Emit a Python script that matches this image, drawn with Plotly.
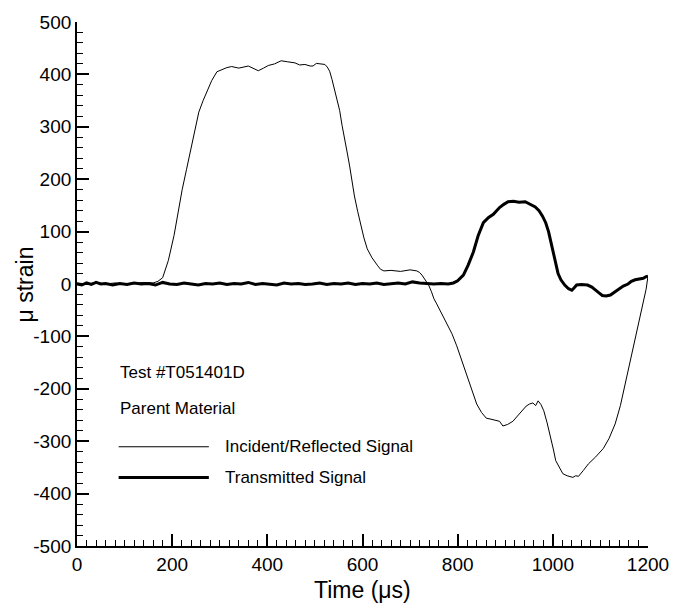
import plotly.graph_objects as go

# ---- data ----
incident_t = [0, 20, 40, 60, 80, 100, 120, 140, 160, 170, 180, 192, 204, 212, 221, 230, 239, 247, 256, 265,
              273, 283, 294, 305, 315, 325, 340, 360, 372, 381, 392, 402, 415, 429, 443, 458, 468, 479, 490, 496,
              503, 512, 521, 526, 531, 536, 541, 547, 552, 557, 562, 568, 573, 578, 583, 590, 596, 603, 610, 620,
              631, 638, 645, 660, 680, 700, 714, 720, 725, 732, 739, 745, 750, 756, 766, 777, 788, 798, 808, 819,
              830, 840, 850, 860, 870, 881, 888, 895, 905, 916, 930, 944, 951, 958, 964, 969, 975, 981, 988, 996,
              1001, 1006, 1013, 1021, 1030, 1042, 1048, 1054, 1064, 1075, 1090, 1106, 1118, 1131, 1142, 1152, 1163,
              1173, 1182, 1190, 1196, 1200]
incident_v = [2, 0, 3, 0, 2, 0, 1, 3, 2, 5, 12, 45, 93, 135, 180, 218, 254, 292, 328, 350,
              367, 388, 405, 410, 413, 415, 412, 416, 410, 407, 412, 417, 420, 426, 424, 422, 418, 419, 416, 416,
              421, 420, 419, 414, 406, 390, 370, 350, 331, 303, 275, 250, 225, 196, 168, 138, 112, 88, 67, 50,
              36, 28, 25, 26, 24, 27, 25, 22, 17, 8, -2, -15, -28, -38, -55, -75, -95, -118, -145, -172,
              -202, -229, -245, -256, -258, -261, -262, -271, -268, -262, -248, -233, -229, -227, -232, -223, -230, -242, -265, -294,
              -315, -337, -350, -362, -366, -369, -366, -367, -356, -343, -330, -314, -295, -267, -232, -191, -148,
              -104, -70, -36, -10, 15]

transmitted_t = [0, 10, 20, 30, 40, 50, 60, 75, 90, 105, 120, 135, 150, 165, 180, 195, 210, 225, 240, 255,
                 270, 285, 300, 315, 330, 345, 360, 375, 390, 405, 420, 435, 450, 465, 480, 495, 510, 525, 540, 555,
                 570, 585, 600, 615, 630, 645, 660, 675, 690, 705, 720, 735, 750, 765, 780, 791, 800, 812, 822, 833,
                 843, 854, 865, 875, 888, 897, 906, 917, 929, 942, 954, 963, 971, 978, 985, 991, 996, 1001, 1006, 1011,
                 1017, 1025, 1033, 1040, 1044, 1050, 1060, 1073, 1082, 1090, 1097, 1104, 1112, 1121, 1130, 1138, 1148,
                 1158, 1165, 1173, 1182, 1190, 1196, 1200]
transmitted_v = [0, -2, 2, -1, 3, 0, 1, -2, 1, -1, 2, 0, 1, -2, 3, 0, -1, 2, 0, -2,
                 1, 0, 2, -1, 1, 0, 3, -1, 1, 0, -2, 2, 0, 1, -1, 0, 2, -1, 1, 0,
                 2, -1, 1, 0, 2, -1, 1, 2, 0, 4, 2, 1, 0, 1, 0, 2, 6, 17, 36, 61,
                 92, 117, 127, 133, 146, 152, 157, 158, 156, 157, 152, 147, 140, 130, 117, 100, 80, 58, 36, 20,
                 8, -2, -9, -12, -8, -2, -1, -2, -6, -11, -17, -22, -23, -21, -15, -9, -4,
                 0, 5, 8, 10, 11, 14, 15]

x_ticks = [0, 200, 400, 600, 800, 1000, 1200]
y_ticks = [500, 400, 300, 200, 100, 0, -100, -200, -300, -400, -500]
y_tick_text = [str(v) for v in y_ticks]  # plain hyphen minus as in the original

annotation_lines = ["Test #T051401D", "Parent Material"]
series_names = ["Incident/Reflected Signal", "Transmitted Signal"]
x_title = "Time (μs)"
y_title = "μ strain"

FONT = "Liberation Sans, Arial, Helvetica, sans-serif"

fig = go.Figure()
fig.add_trace(go.Scatter(x=incident_t, y=incident_v, mode="lines", name=series_names[0],
                         line=dict(color="black", width=1), showlegend=False))
fig.add_trace(go.Scatter(x=transmitted_t, y=transmitted_v, mode="lines", name=series_names[1],
                         line=dict(color="black", width=3), showlegend=False))

W, H = 681, 604
L, R, T, B = 77, 28, 18, 58


def px(xp):
    return (xp - L) / (W - L - R)


def py(yp):
    return 1 - (yp - T) / (H - T - B)


# text block
for yp, txt in [(371, annotation_lines[0]), (407, annotation_lines[1])]:
    fig.add_annotation(x=px(118), y=py(yp), xref="paper", yref="paper", text=txt,
                       showarrow=False, xanchor="left", yanchor="middle",
                       font=dict(size=17, color="black", family=FONT))
# legend samples
for yp, w, name in [(446, 1, series_names[0]), (477, 3, series_names[1])]:
    fig.add_shape(type="line", xref="paper", yref="paper", x0=px(119), x1=px(210), y0=py(yp), y1=py(yp),
                  line=dict(color="black", width=w))
    fig.add_annotation(x=px(224), y=py(yp), xref="paper", yref="paper", text=name,
                       showarrow=False, xanchor="left", yanchor="middle",
                       font=dict(size=17, color="black", family=FONT))

# axis titles
fig.add_annotation(x=px(25), y=0.5, xref="paper", yref="paper", text=y_title, textangle=-90,
                   showarrow=False, xanchor="center", yanchor="middle",
                   font=dict(size=23, color="black", family=FONT))
fig.add_annotation(x=0.5, y=py(590), xref="paper", yref="paper", text=x_title,
                   showarrow=False, xanchor="center", yanchor="middle",
                   font=dict(size=23, color="black", family=FONT))

fig.update_layout(
    width=W, height=H,
    margin=dict(l=L, r=R, t=T, b=B),
    plot_bgcolor="white", paper_bgcolor="white",
    font=dict(family=FONT, color="black", size=19),
    showlegend=False,
)
fig.update_xaxes(range=[0, 1200], tickvals=x_ticks, ticks="inside", ticklen=12, tickwidth=1.5,
                 tickcolor="black", showline=True, linecolor="black", linewidth=1.8, showgrid=False,
                 zeroline=False, mirror=False,
                 minor=dict(ticks="inside", ticklen=6, tickwidth=1.2, tickcolor="black", dtick=20, showgrid=False),
                 tickfont=dict(size=19))
fig.update_yaxes(range=[-500, 500], tickvals=y_ticks, ticktext=y_tick_text, ticks="inside", ticklen=12,
                 tickwidth=1.5, tickcolor="black", showline=True, linecolor="black", linewidth=1.8,
                 showgrid=False, zeroline=False, mirror=False,
                 minor=dict(ticks="inside", ticklen=6, tickwidth=1.2, tickcolor="black", dtick=20, showgrid=False),
                 tickfont=dict(size=19))

fig.write_html("out.html")
